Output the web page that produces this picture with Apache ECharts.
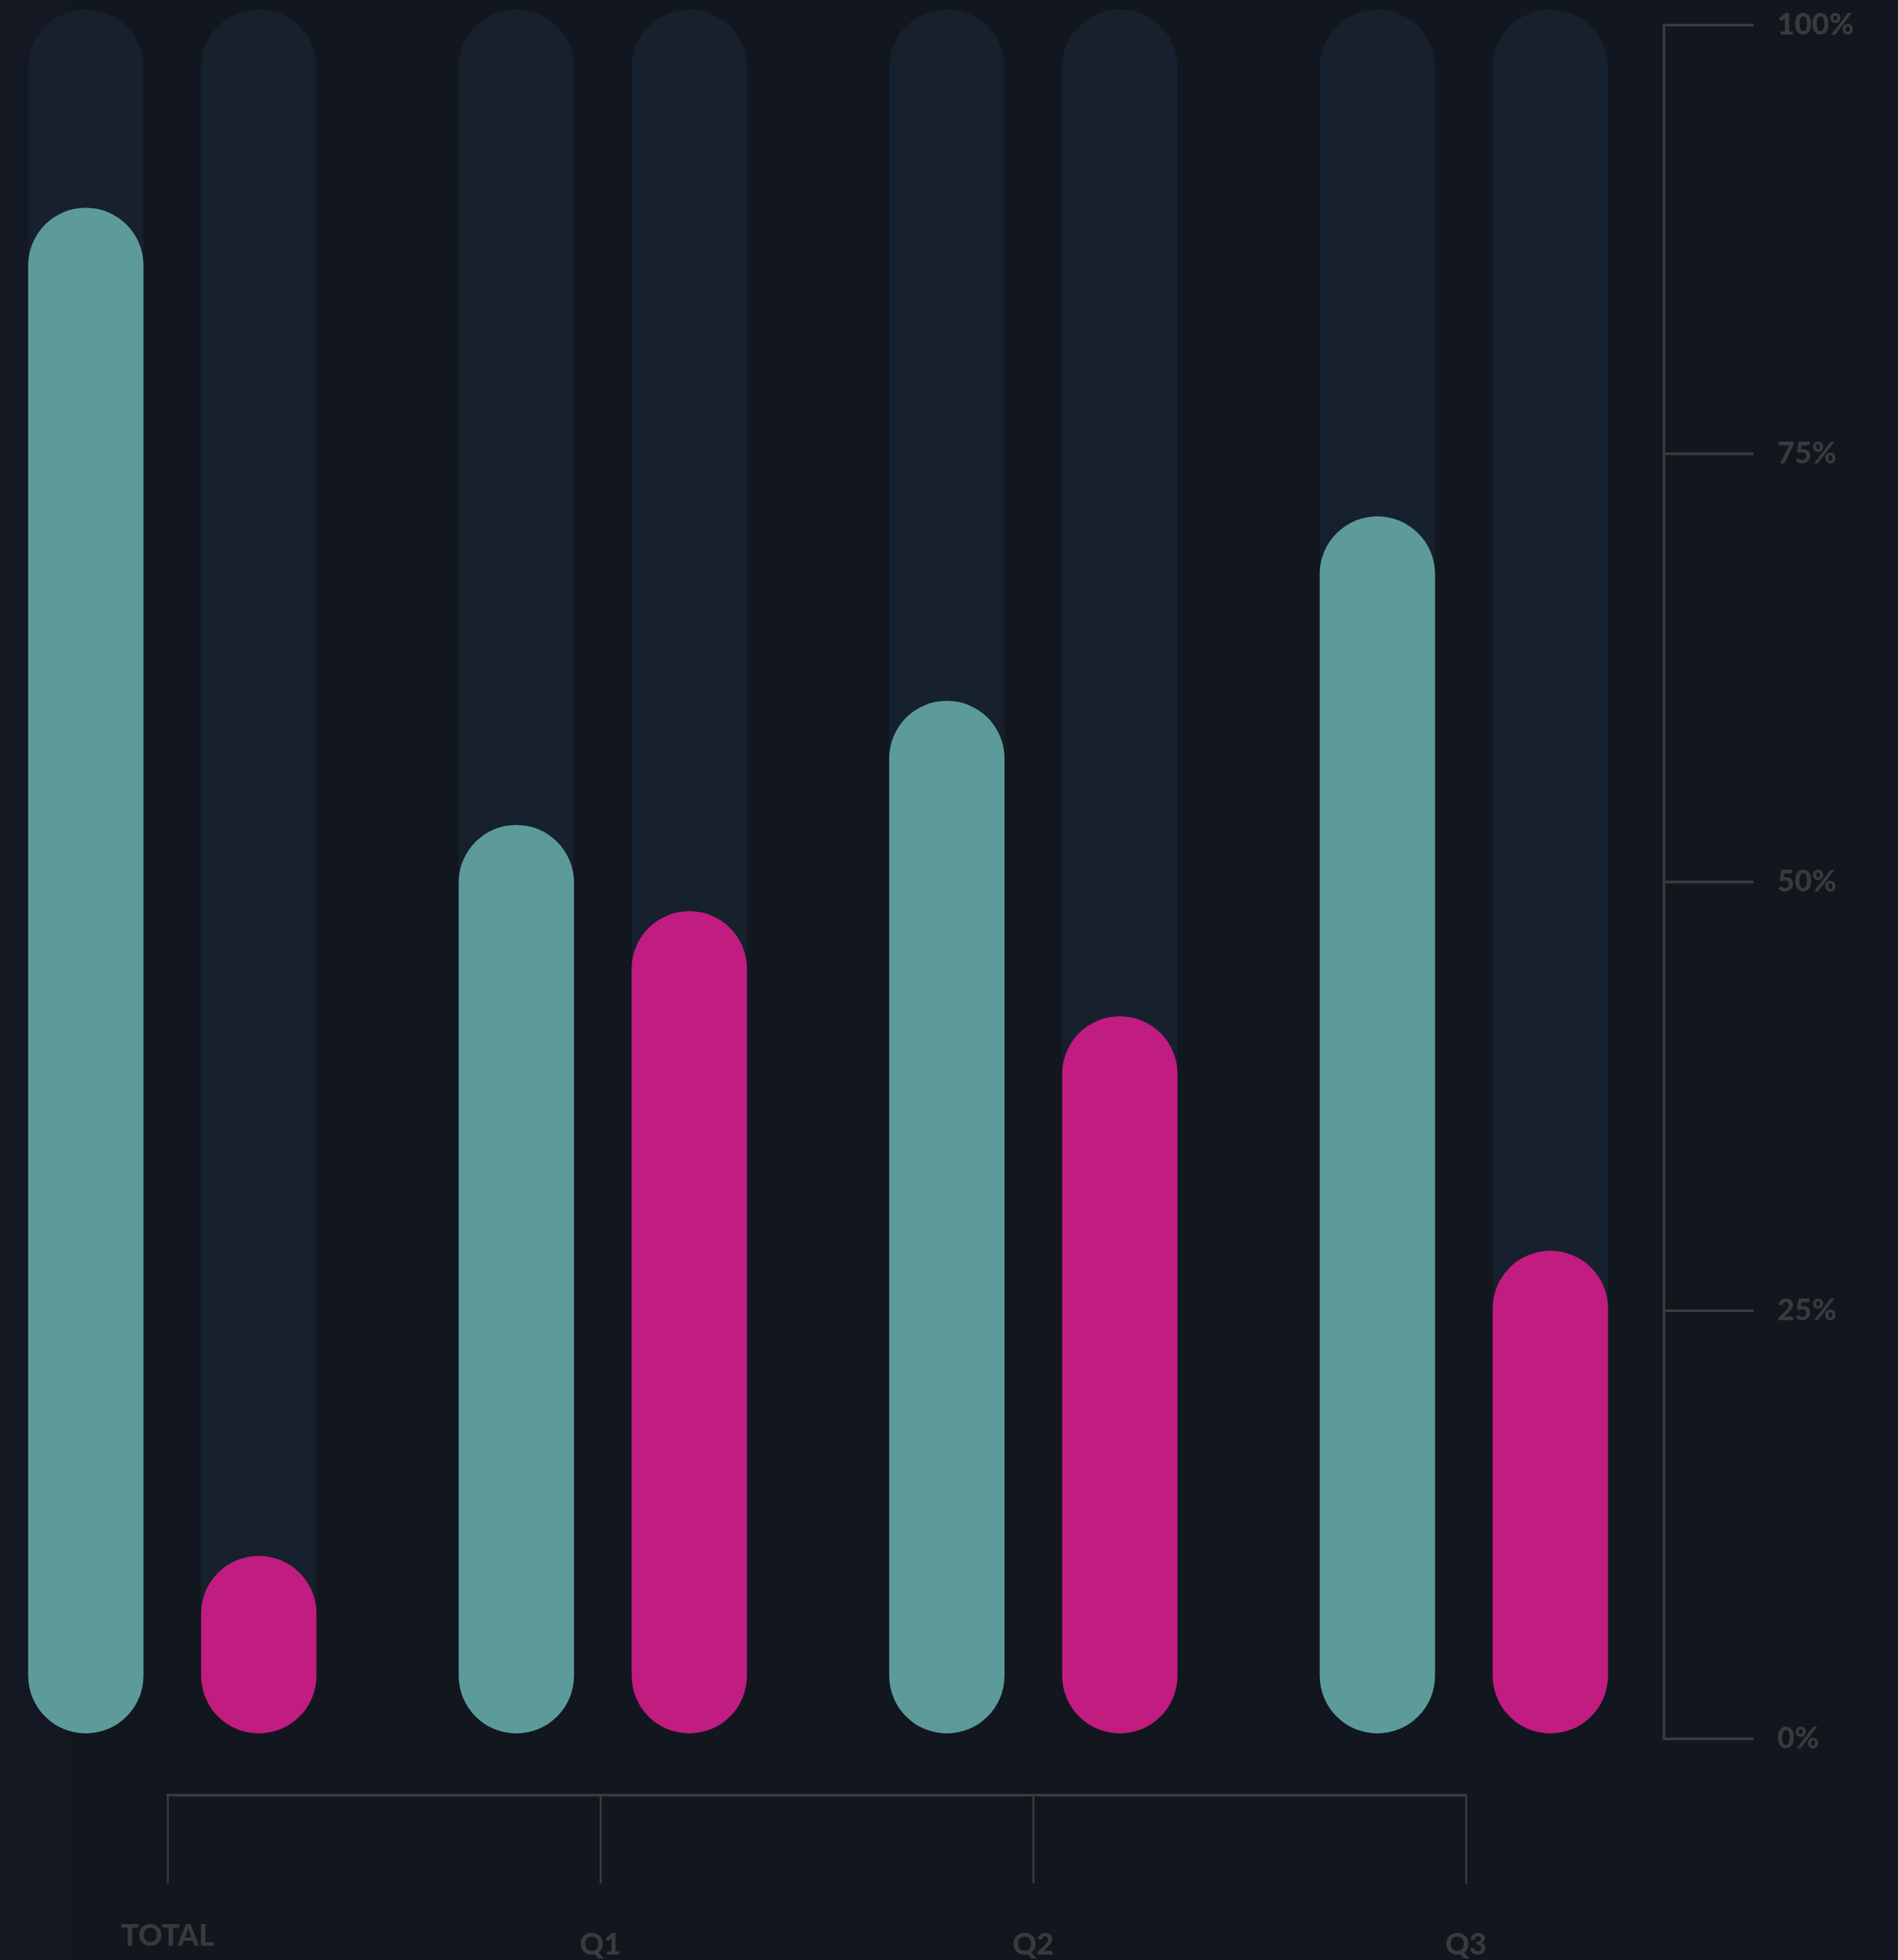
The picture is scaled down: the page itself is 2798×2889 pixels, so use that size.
<!DOCTYPE html>
<html>
<head>
<meta charset="utf-8">
<style>
  html, body { margin: 0; padding: 0; background: #12171f; }
  #chart { width: 2798px; height: 2889px; }
</style>
<script src="https://cdn.jsdelivr.net/npm/echarts@6/dist/echarts.min.js"></script>
</head>
<body>
<div id="chart"></div>
<script>
// Share of respondents per period, two groups
const categories = ['TOTAL', 'Q1', 'Q2', 'Q3'];
const tealValues = [88.5, 52.7, 59.9, 70.6];
const magentaValues = [10.3, 47.7, 41.6, 28.0];

const AXIS_GREY = '#3a3a3a';
const TRACK = '#17202d';
const LABEL_FONT = 'Lato, "Noto Sans", sans-serif';
const LABEL_WEIGHT = 900;

const chart = echarts.init(document.getElementById('chart'));

// bracket labels: the first one sits a little higher than the quarters
const bracketData = categories.map((c, i) => ({
  value: c,
  textStyle: { padding: i === 0 ? [0, 0, 0, 0] : [13, 0, 0, 0] }
}));

// pill-shaped bars over full-height rounded tracks
const pill = {
  type: 'bar',
  xAxisIndex: 0,
  yAxisIndex: 0,
  barWidth: 170,
  barGap: '50%',
  showBackground: true,
  backgroundStyle: { color: TRACK, borderRadius: 85 }
};

chart.setOption({
  backgroundColor: '#12171f',
  animation: false,
  graphic: [{
    type: 'rect',
    z: -10,
    shape: { x: 0, y: 0, width: 98, height: 2889 },
    style: { fill: 'rgba(40, 60, 100, 0.05)' }
  }],
  grid: [
    { left: 254, right: 640, top: 14, bottom: 334 },   // bars
    { left: 100, right: 345, top: 37, bottom: 326 },   // percent scale
    { left: 247, right: 637, top: 2600, bottom: 241 }  // period bracket
  ],
  xAxis: [
    {
      gridIndex: 0, type: 'category', data: categories, boundaryGap: false,
      axisLine: { show: false }, axisTick: { show: false }, axisLabel: { show: false },
      splitLine: { show: false }
    },
    { gridIndex: 1, type: 'value', show: false, splitLine: { show: false } },
    {
      gridIndex: 2, type: 'category', data: bracketData, boundaryGap: false,
      position: 'bottom',
      axisLine: { show: true, onZero: false, lineStyle: { color: AXIS_GREY, width: 4 } },
      axisTick: { show: true, length: 130, lineStyle: { color: AXIS_GREY, width: 3 } },
      axisLabel: {
        show: true, margin: 186, color: AXIS_GREY,
        fontFamily: LABEL_FONT, fontWeight: LABEL_WEIGHT, fontSize: 44
      },
      splitLine: { show: false }
    }
  ],
  yAxis: [
    { gridIndex: 0, type: 'value', min: 0, max: 100, show: false, splitLine: { show: false } },
    {
      gridIndex: 1, type: 'value', position: 'right', min: 0, max: 100, interval: 25,
      axisLine: { show: true, onZero: false, lineStyle: { color: AXIS_GREY, width: 4 } },
      axisTick: { show: true, inside: false, length: 132, lineStyle: { color: AXIS_GREY, width: 4 } },
      axisLabel: {
        show: true, margin: 167, color: AXIS_GREY,
        fontFamily: LABEL_FONT, fontWeight: LABEL_WEIGHT, fontSize: 44,
        formatter: (v) => v + '%'
      },
      splitLine: { show: false }
    },
    { gridIndex: 2, type: 'value', show: false, splitLine: { show: false } }
  ],
  series: [
    Object.assign({}, pill, { name: 'teal', data: tealValues, itemStyle: { color: '#5c9b9a', borderRadius: 85 } }),
    Object.assign({}, pill, { name: 'magenta', data: magentaValues, itemStyle: { color: '#c11c80', borderRadius: 85 } })
  ]
});
</script>
</body>
</html>
